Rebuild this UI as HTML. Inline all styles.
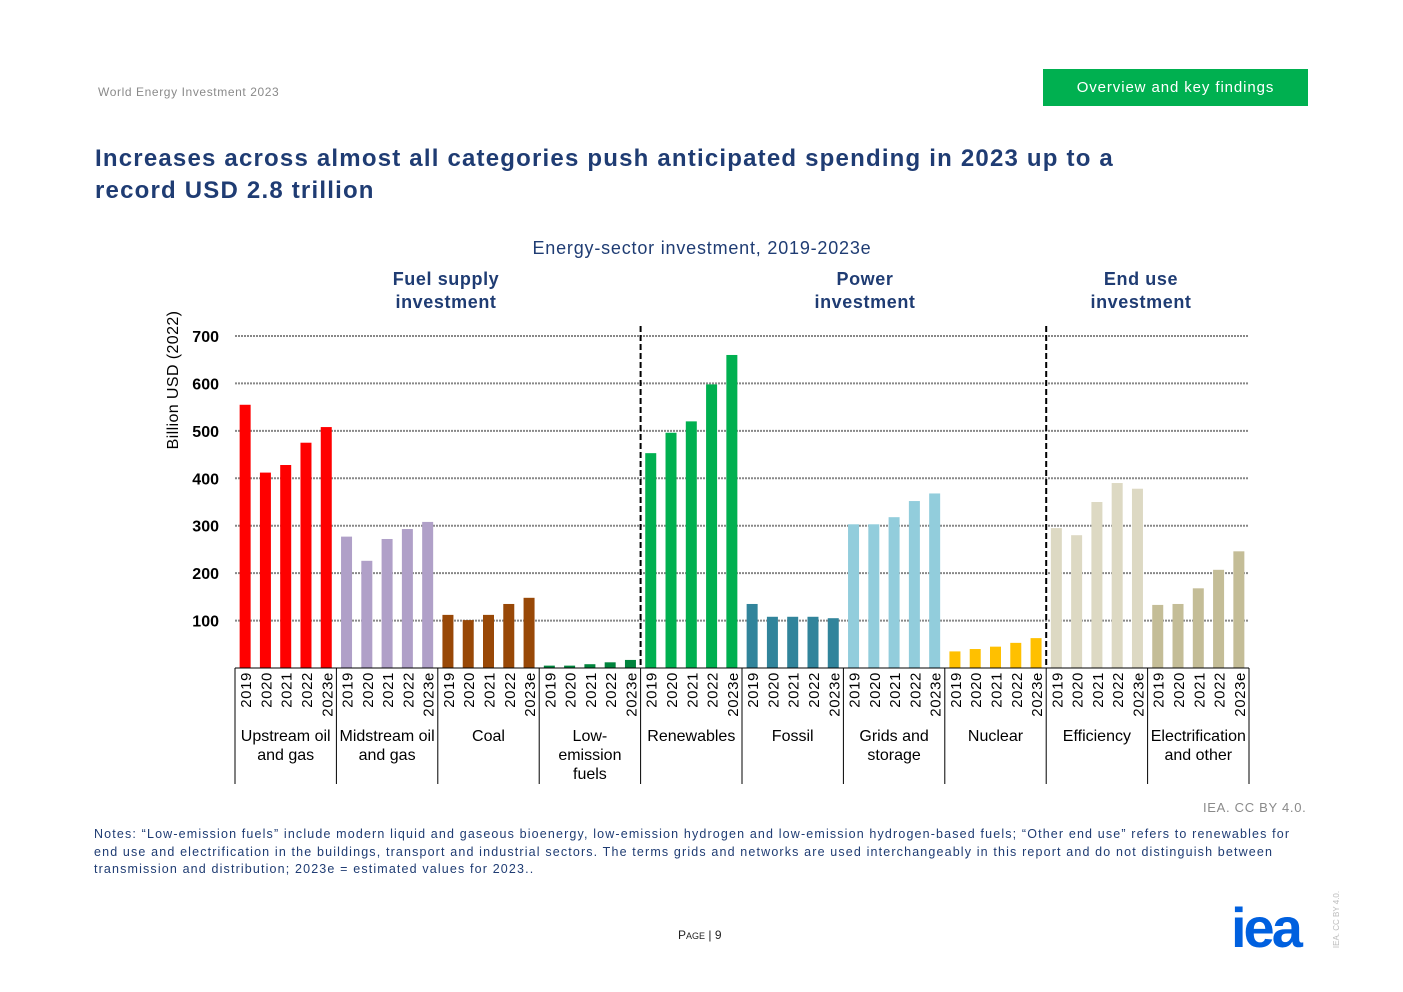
<!DOCTYPE html>
<html><head><meta charset="utf-8"><style>
body{margin:0;background:#fff;font-family:"Liberation Sans",Arial,sans-serif;}
#wrap{position:relative;width:1403px;height:992px;overflow:hidden;}
.abs{position:absolute;}
</style></head><body>
<div id="wrap">
<div class="abs" style="left:98px;top:85px;font-size:12px;color:#8a8a8a;letter-spacing:0.6px;">World Energy Investment 2023</div>
<div class="abs" style="left:1043px;top:69px;width:265px;height:37px;background:#00b050;color:#fff;font-size:15px;line-height:37px;text-align:center;letter-spacing:0.9px;">Overview and key findings</div>
<div class="abs" style="left:95px;top:143px;font-size:24px;font-weight:bold;color:#1f3c73;line-height:32px;letter-spacing:1.2px;white-space:nowrap;">Increases across almost all categories push anticipated spending in 2023 up to a<br>record USD 2.8 trillion</div>
<svg class="abs" style="left:0;top:0" width="1403" height="992" id="chart"></svg>
<div class="abs" style="left:1203px;top:800px;font-size:13px;color:#8a8a8a;letter-spacing:0.7px;">IEA. CC BY 4.0.</div>
<div class="abs" style="left:94px;top:826px;width:1205px;font-size:12.5px;color:#1f3c73;line-height:17.5px;letter-spacing:1.15px;">Notes: “Low-emission fuels” include modern liquid and gaseous bioenergy, low-emission hydrogen and low-emission hydrogen-based fuels; “Other end use” refers to renewables for end use and electrification in the buildings, transport and industrial sectors. The terms grids and networks are used interchangeably in this report and do not distinguish between transmission and distribution; 2023e = estimated values for 2023..</div>
<div class="abs" style="left:678px;top:928px;font-size:12px;color:#222;">P<span style="font-size:9px">AGE</span> | 9</div>
<div class="abs" style="left:1231px;top:900px;font-size:56px;font-weight:bold;color:#0060df;letter-spacing:-3px;line-height:56px;">iea</div>
<div class="abs" style="left:1308px;top:915px;font-size:8px;color:#bbb;transform:rotate(-90deg);">IEA. CC BY 4.0.</div>
</div>
<script>
const categories=["Upstream oil|and gas","Midstream oil|and gas","Coal","Low-|emission|fuels","Renewables","Fossil","Grids and|storage","Nuclear","Efficiency","Electrification|and other"];
const years=["2019","2020","2021","2022","2023e"];
const upstream=[555,412,428,475,508];
const midstream=[277,226,272,293,308];
const coal=[112,101,112,135,148];
const lowEmission=[5,5,8,12,17];
const renewables=[453,496,520,598,660];
const fossil=[135,108,108,108,105];
const grids=[303,303,318,352,368];
const nuclear=[35,40,45,53,63];
const efficiency=[295,280,350,390,378];
const electrification=[133,135,168,207,246];
const yTicks=[100,200,300,400,500,600,700];
const series=[upstream,midstream,coal,lowEmission,renewables,fossil,grids,nuclear,efficiency,electrification];
const colors=["#ff0000","#b0a0c8","#984807","#00843d","#00b050","#31849b","#92cddc","#ffc000","#ddd9c3","#c4bd97"];
const svg=document.getElementById('chart');const NS="http://www.w3.org/2000/svg";
function mk(t,a,txt){const e=document.createElementNS(NS,t);for(const k in a)e.setAttribute(k,a[k]);if(txt!==undefined)e.textContent=txt;svg.appendChild(e);return e;}
const x0=235,x1=1249,yBase=668,yTop=336;
const gw=(x1-x0)/categories.length,sw=gw/5;
const y=v=>yBase-(v/700)*(yBase-yTop);
const font='"Liberation Sans",Arial,sans-serif';
let e;
e=mk('text',{x:702,y:254,'text-anchor':'middle','font-size':18,fill:'#1f3c73','font-family':font,'letter-spacing':'0.8'},'Energy-sector investment, 2019-2023e');

[[446,"Fuel supply","investment"],[865,"Power","investment"],[1141,"End use","investment"]].forEach(h=>{
 const t=mk('text',{x:h[0],y:285,'text-anchor':'middle','font-size':18,'font-weight':'bold',fill:'#1f3c73','font-family':font,'letter-spacing':'0.6'});
 
 const a=document.createElementNS(NS,'tspan');a.setAttribute('x',h[0]);a.textContent=h[1];t.appendChild(a);
 const b=document.createElementNS(NS,'tspan');b.setAttribute('x',h[0]);b.setAttribute('dy',23);b.textContent=h[2];t.appendChild(b);
});
e=mk('text',{x:0,y:0,transform:'translate(178,380) rotate(-90)','text-anchor':'middle','font-size':16,fill:'#000','font-family':font,'letter-spacing':'0.4'},'Billion USD (2022)');

yTicks.forEach(v=>{
 const l=mk('line',{x1:x0,x2:x1,y1:y(v),y2:y(v),stroke:'#888','stroke-width':2,'stroke-dasharray':'2,1'});
 
 const t=mk('text',{x:219,y:y(v)+6,'text-anchor':'end','font-size':16,'font-weight':'bold',fill:'#000','font-family':font},v);
 
});
series.forEach((s,g)=>{
 s.forEach((v,i)=>{
  const cx=x0+g*gw+sw*(i+0.5);
  const r=mk('rect',{x:cx-5.5,y:y(v),width:11,height:yBase-y(v),fill:colors[g]});
  
  const t=mk('text',{x:0,y:0,transform:`translate(${cx+6},${672}) rotate(-90)`,'text-anchor':'end','font-size':15,fill:'#000','font-family':font,'letter-spacing':'0.6'},years[i]);
  
 });
 const lines=categories[g].split('|');
 const cl=mk('text',{x:x0+g*gw+gw/2,y:741,'text-anchor':'middle','font-size':16,fill:'#000','font-family':font});
 
 lines.forEach((ln,k)=>{const ts=document.createElementNS(NS,'tspan');ts.setAttribute('x',x0+g*gw+gw/2);if(k)ts.setAttribute('dy',19);ts.textContent=ln;cl.appendChild(ts);});
});
for(let g=0;g<=categories.length;g++){
 const sep=mk('line',{x1:x0+g*gw,x2:x0+g*gw,y1:668,y2:784,stroke:'#000','stroke-width':1});
 
}
e=mk('line',{x1:x0,x2:x1,y1:668,y2:668,stroke:'#000','stroke-width':1});

[4,8].forEach(g=>{
 const d=mk('line',{x1:x0+g*gw,x2:x0+g*gw,y1:326,y2:668,stroke:'#000','stroke-width':2,'stroke-dasharray':'6,3'});
 
});
</script>
</body></html>
